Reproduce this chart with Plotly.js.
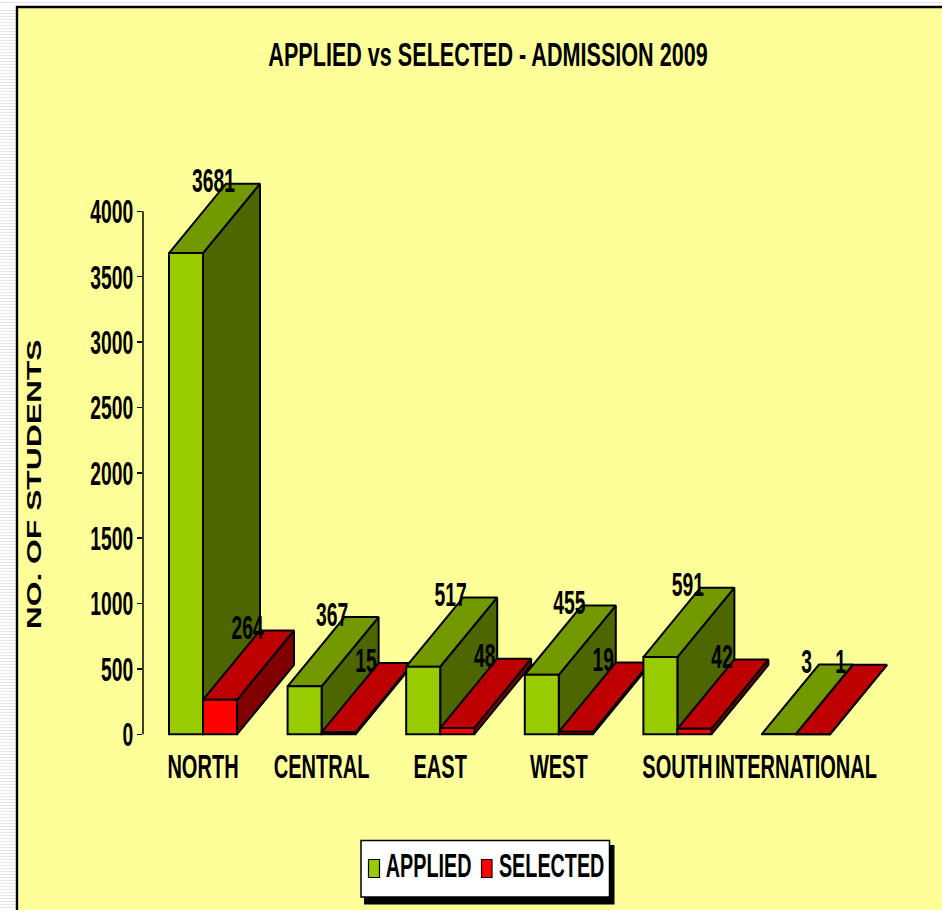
<!DOCTYPE html>
<html>
<head>
<meta charset="utf-8">
<script src="https://cdn.plot.ly/plotly-3.0.1.min.js"></script>
<style>
html,body{margin:0;padding:0;width:942px;height:910px;overflow:hidden;background-color:#fff;}
#strip{position:absolute;left:0;top:8px;width:17px;height:902px;background:repeating-linear-gradient(to bottom,#ffffff 0 2px,#e6e6e6 2px 3px);}
#topline{position:absolute;left:0;top:2px;width:942px;height:1px;background:#e2e2e2;}
#chart{position:absolute;left:0;top:0;width:942px;height:910px;}
</style>
</head>
<body>
<div id="strip"></div><div id="topline"></div>
<div id="chart"></div>
<script>
const categories = ["NORTH","CENTRAL","EAST","WEST","SOUTH","INTERNATIONAL"];
const applied = [3681,367,517,455,591,3];
const selected = [264,15,48,19,42,1];
const seriesNames = ["APPLIED","SELECTED"];
const yTicks = [0,500,1000,1500,2000,2500,3000,3500,4000];
const frontColors = ["#99CC00","#FF0000"];
const topColors = ["#739900","#BF0000"];
const sideColors = ["#4D6600","#800000"];
const W = 942, H = 910, L = 143, R = 900, T = 150, B = 736;
const barW = 0.2867, depthX = 0.4806, depthY = 530;
const fontFam = '"Liberation Sans",Arial,sans-serif';
const px = (x)=>(x-L)/(R-L), py = (y)=>(B-y)/(B-T);

const traces = [];
let z = 1;
categories.forEach((c,i)=>{
  [applied,selected].forEach((vals,s)=>{
    const v = vals[i];
    const xl = i + (s===0 ? -barW : 0), xr = xl + barW;
    const line = {color:"#000",width:2};
    traces.push({type:"scatter",mode:"lines",fill:"toself",fillcolor:sideColors[s],line,hoverinfo:"skip",showlegend:false,zorder:z,
      x:[xr,xr+depthX,xr+depthX,xr,xr],y:[v,v+depthY,depthY,0,v]});
    traces.push({type:"scatter",mode:"lines",fill:"toself",fillcolor:topColors[s],line,hoverinfo:"skip",showlegend:false,zorder:z,
      x:[xl,xl+depthX,xr+depthX,xr,xl],y:[v,v+depthY,v+depthY,v,v]});
    traces.push({type:"bar",x:[i],y:[v],width:barW,offset:s===0?-barW:0,name:seriesNames[s],showlegend:false,
      marker:{color:frontColors[s],line:{color:"#000",width:2}},zorder:z+1,hoverinfo:"skip"});
    z += 2;
  });
});
const lblOff = 0.232;
traces.push({type:"scatter",mode:"text",hoverinfo:"skip",showlegend:false,zorder:z,cliponaxis:false,
  x:categories.flatMap((c,i)=>[i-barW/2+lblOff,i+barW/2+lblOff]),
  y:categories.flatMap((c,i)=>[applied[i]+depthY,selected[i]+depthY]),
  text:categories.flatMap((c,i)=>[String(applied[i]),String(selected[i])]),
  textposition:"middle center",
  textfont:{family:fontFam,size:34,color:"#000",weight:700}});

const bigFont = {family:fontFam,size:34,color:"#000",weight:700};
const layout = {
  width:W,height:H,showlegend:false,barmode:"overlay",
  paper_bgcolor:"rgba(0,0,0,0)",plot_bgcolor:"rgba(0,0,0,0)",
  margin:{l:L,r:W-R,t:T,b:H-B,pad:0},
  title:{text:"APPLIED vs SELECTED - ADMISSION 2009",x:488/W,xanchor:"center",y:1-54/H,yanchor:"middle",
    font:{family:fontFam,size:34,color:"#000",weight:700}},
  xaxis:{range:[-0.5059,5.877],tickvals:categories.map((c,i)=>i),ticktext:categories,showline:false,showgrid:false,zeroline:false,
    ticks:"",tickfont:bigFont,ticklabelstandoff:7,tickangle:0,fixedrange:true},
  yaxis:{range:[-13,4469],tickvals:yTicks,ticktext:yTicks.map(String),showline:false,showgrid:false,zeroline:false,
    ticks:"outside",ticklen:5,tickwidth:1.5,tickcolor:"#000",tickfont:bigFont,ticklabelstandoff:-3,fixedrange:true},
  shapes:[
    {type:"rect",layer:"below",xref:"paper",yref:"paper",x0:px(17),x1:px(960),y0:py(7),y1:py(930),fillcolor:"#FFFF99",line:{color:"#000",width:2.4}},
    {type:"line",layer:"above",xref:"paper",yref:"y",x0:0,x1:0,y0:yTicks[0],y1:yTicks[yTicks.length-1],line:{color:"#000",width:1.5}},
    {type:"rect",layer:"above",xref:"paper",yref:"paper",x0:px(364),x1:px(614.5),y0:py(845),y1:py(904.5),fillcolor:"#000",line:{width:0}},
    {type:"rect",layer:"above",xref:"paper",yref:"paper",x0:px(361),x1:px(609.5),y0:py(840.5),y1:py(897),fillcolor:"#fff",line:{color:"#000",width:1.5}},
    {type:"rect",layer:"above",xref:"paper",yref:"paper",x0:px(368.5),x1:px(379.5),y0:py(859.5),y1:py(877.5),fillcolor:frontColors[0],line:{color:"#000",width:1.2}},
    {type:"rect",layer:"above",xref:"paper",yref:"paper",x0:px(481.5),x1:px(492),y0:py(859.5),y1:py(877.5),fillcolor:frontColors[1],line:{color:"#000",width:1.2}}
  ],
  annotations:[
    {text:"NO. OF STUDENTS",xref:"paper",yref:"paper",x:px(33),y:py(485),xanchor:"center",yanchor:"middle",textangle:-90,showarrow:false,
      font:{family:fontFam,size:21,color:"#000",weight:700}},
    {text:seriesNames[0],xref:"paper",yref:"paper",x:px(428),y:py(865),xanchor:"center",yanchor:"middle",showarrow:false,font:bigFont},
    {text:seriesNames[1],xref:"paper",yref:"paper",x:px(551.5),y:py(865),xanchor:"center",yanchor:"middle",showarrow:false,font:bigFont}
  ]
};
// Narrow the glyphs horizontally about each text's own anchor point.
function narrow(el,f){
  const x = parseFloat(el.getAttribute("x")) || 0;
  const base = el.getAttribute("transform") || "";
  el.setAttribute("transform",`${base} translate(${x},0) scale(${f.toFixed(4)},1) translate(${-x},0)`);
}
Plotly.newPlot("chart",traces,layout,{staticPlot:true,displayModeBar:false}).then(()=>{
  document.querySelectorAll("#chart .ytick text, #chart .textpoint text").forEach(el=>narrow(el,0.568));
  document.querySelectorAll("#chart .xtick text").forEach(el=>narrow(el,0.589));
  document.querySelectorAll("#chart .gtitle").forEach(el=>narrow(el,0.635));
  document.querySelectorAll("#chart .annotation-text").forEach(el=>{
    const n = el.getComputedTextLength();
    narrow(el, el.textContent==="NO. OF STUDENTS" ? 290/n : 0.582);
  });
});
</script>
</body>
</html>
